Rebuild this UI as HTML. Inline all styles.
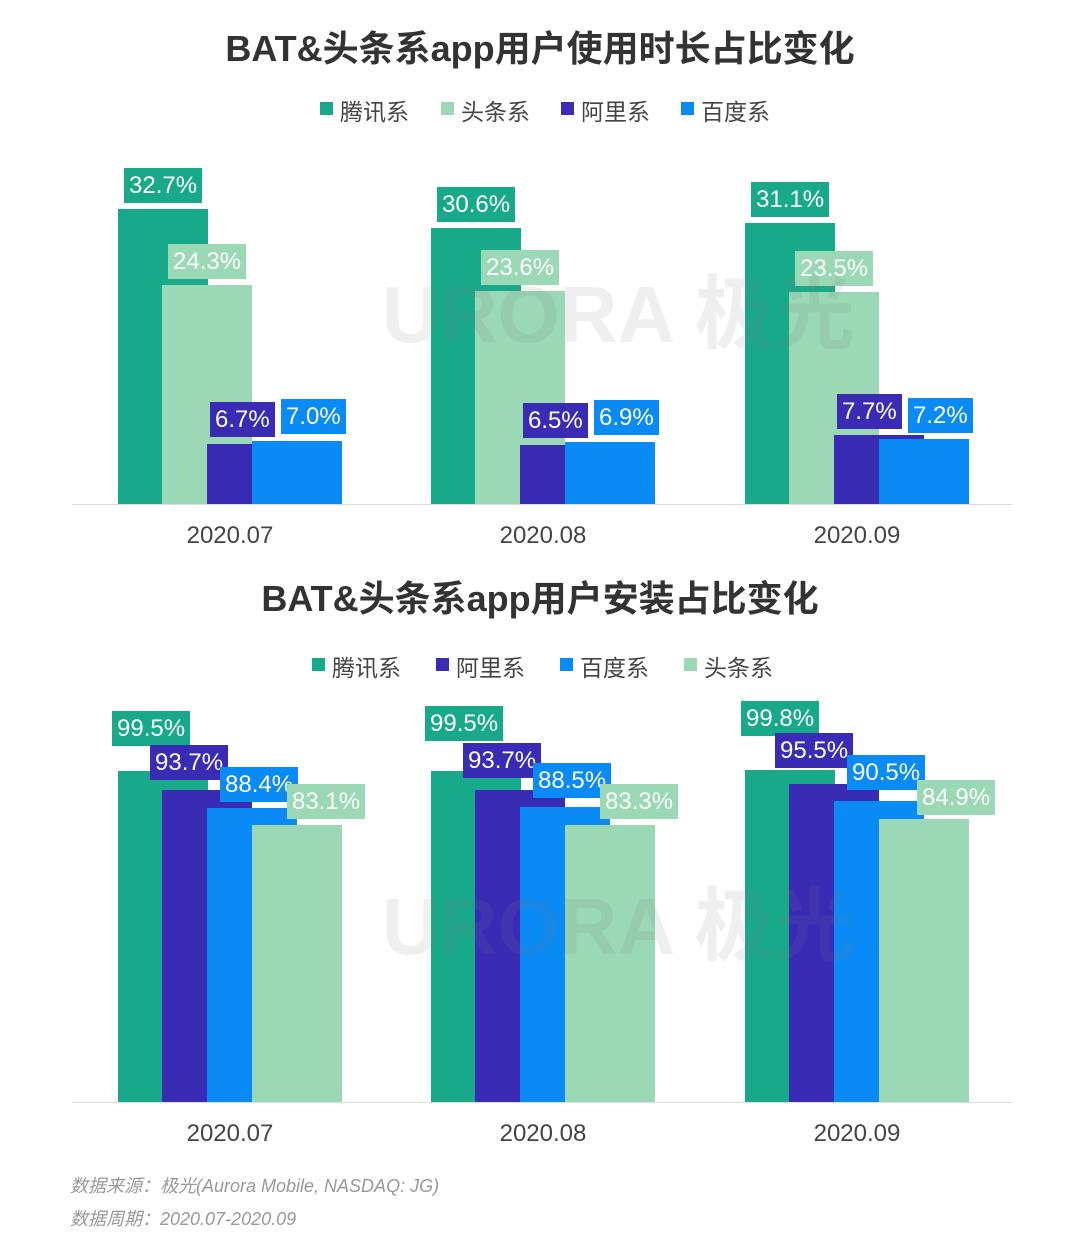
<!DOCTYPE html>
<html><head><meta charset="utf-8"><style>
body{margin:0;width:1080px;height:1234px;background:#fff;position:relative;overflow:hidden;font-family:"Liberation Sans","Noto Sans CJK SC",sans-serif}
div{position:absolute}
.t{left:0;width:1080px;text-align:center;font-weight:bold;font-size:36px;color:#333}
.b{width:90px}
.T{background:#18a98a}.TT{background:#9ad8b6}.A{background:#3a2bb5}.B{background:#0a8af5}
.l{height:35px;line-height:36px;padding:0 5px;color:#fff;font-size:24px;white-space:nowrap}
.lg{font-size:23px;color:#444;white-space:nowrap}
.sq{width:13px;height:13px}
.x{font-size:24px;color:#444;width:200px;text-align:center}
.ax{height:1px;background:#ddd;left:72px;width:940px}
.wm{font-size:80px;font-weight:bold;color:rgba(120,120,120,0.12);white-space:nowrap;z-index:5}
.f{font-size:18px;color:#999;font-style:italic;left:70px}
</style></head><body>
<div class="t" style="top:20px">BAT&amp;头条系app用户使用时长占比变化</div>
<div class="sq T" style="left:320px;top:102px"></div><div class="lg" style="left:340px;top:93px">腾讯系</div>
<div class="sq TT" style="left:441px;top:102px"></div><div class="lg" style="left:461px;top:93px">头条系</div>
<div class="sq A" style="left:561px;top:102px"></div><div class="lg" style="left:581px;top:93px">阿里系</div>
<div class="sq B" style="left:681px;top:102px"></div><div class="lg" style="left:701px;top:93px">百度系</div>
<div class="wm" style="left:382px;top:250px">URORA 极光</div>
<div class="wm" style="left:382px;top:862px">URORA 极光</div>

<div class="b T" style="left:118px;top:209px;height:295px"></div>
<div class="b TT" style="left:162px;top:285px;height:219px"></div>
<div class="b A" style="left:207px;top:444px;height:60px"></div>
<div class="b B" style="left:252px;top:441px;height:63px"></div>
<div class="l T" style="left:124px;top:168px">32.7%</div>
<div class="l TT" style="left:168px;top:244px">24.3%</div>
<div class="l A" style="left:210px;top:402px">6.7%</div>
<div class="l B" style="left:281px;top:399px">7.0%</div>

<div class="b T" style="left:431px;top:228px;height:276px"></div>
<div class="b TT" style="left:475px;top:291px;height:213px"></div>
<div class="b A" style="left:520px;top:445px;height:59px"></div>
<div class="b B" style="left:565px;top:442px;height:62px"></div>
<div class="l T" style="left:437px;top:187px">30.6%</div>
<div class="l TT" style="left:481px;top:250px">23.6%</div>
<div class="l A" style="left:523px;top:403px">6.5%</div>
<div class="l B" style="left:594px;top:400px">6.9%</div>

<div class="b T" style="left:745px;top:223px;height:281px"></div>
<div class="b TT" style="left:789px;top:292px;height:212px"></div>
<div class="b A" style="left:834px;top:435px;height:69px"></div>
<div class="b B" style="left:879px;top:439px;height:65px"></div>
<div class="l T" style="left:751px;top:182px">31.1%</div>
<div class="l TT" style="left:795px;top:251px">23.5%</div>
<div class="l A" style="left:837px;top:394px">7.7%</div>
<div class="l B" style="left:908px;top:398px">7.2%</div>

<div class="ax" style="top:504px"></div>
<div class="x" style="left:130px;top:522px">2020.07</div>
<div class="x" style="left:443px;top:522px">2020.08</div>
<div class="x" style="left:757px;top:522px">2020.09</div>

<div class="t" style="top:570px">BAT&amp;头条系app用户安装占比变化</div>
<div class="sq T" style="left:312px;top:658px"></div><div class="lg" style="left:332px;top:649px">腾讯系</div>
<div class="sq A" style="left:436px;top:658px"></div><div class="lg" style="left:456px;top:649px">阿里系</div>
<div class="sq B" style="left:560px;top:658px"></div><div class="lg" style="left:580px;top:649px">百度系</div>
<div class="sq TT" style="left:684px;top:658px"></div><div class="lg" style="left:704px;top:649px">头条系</div>

<div class="b T" style="left:118px;top:771px;height:331px"></div>
<div class="b A" style="left:162px;top:790px;height:312px"></div>
<div class="b B" style="left:207px;top:808px;height:294px"></div>
<div class="b TT" style="left:252px;top:825px;height:277px"></div>
<div class="l T" style="left:112px;top:711px">99.5%</div>
<div class="l A" style="left:150px;top:745px">93.7%</div>
<div class="l B" style="left:220px;top:767px">88.4%</div>
<div class="l TT" style="left:287px;top:784px">83.1%</div>

<div class="b T" style="left:431px;top:771px;height:331px"></div>
<div class="b A" style="left:475px;top:790px;height:312px"></div>
<div class="b B" style="left:520px;top:807px;height:295px"></div>
<div class="b TT" style="left:565px;top:825px;height:277px"></div>
<div class="l T" style="left:425px;top:706px">99.5%</div>
<div class="l A" style="left:463px;top:743px">93.7%</div>
<div class="l B" style="left:533px;top:763px">88.5%</div>
<div class="l TT" style="left:600px;top:784px">83.3%</div>

<div class="b T" style="left:745px;top:770px;height:332px"></div>
<div class="b A" style="left:789px;top:784px;height:318px"></div>
<div class="b B" style="left:834px;top:801px;height:301px"></div>
<div class="b TT" style="left:879px;top:819px;height:283px"></div>
<div class="l T" style="left:741px;top:701px">99.8%</div>
<div class="l A" style="left:775px;top:733px">95.5%</div>
<div class="l B" style="left:847px;top:755px">90.5%</div>
<div class="l TT" style="left:917px;top:780px">84.9%</div>

<div class="ax" style="top:1102px"></div>
<div class="x" style="left:130px;top:1120px">2020.07</div>
<div class="x" style="left:443px;top:1120px">2020.08</div>
<div class="x" style="left:757px;top:1120px">2020.09</div>

<div class="f" style="top:1172px">数据来源：极光(Aurora Mobile, NASDAQ: JG)</div>
<div class="f" style="top:1205px">数据周期：2020.07-2020.09</div>
</body></html>
